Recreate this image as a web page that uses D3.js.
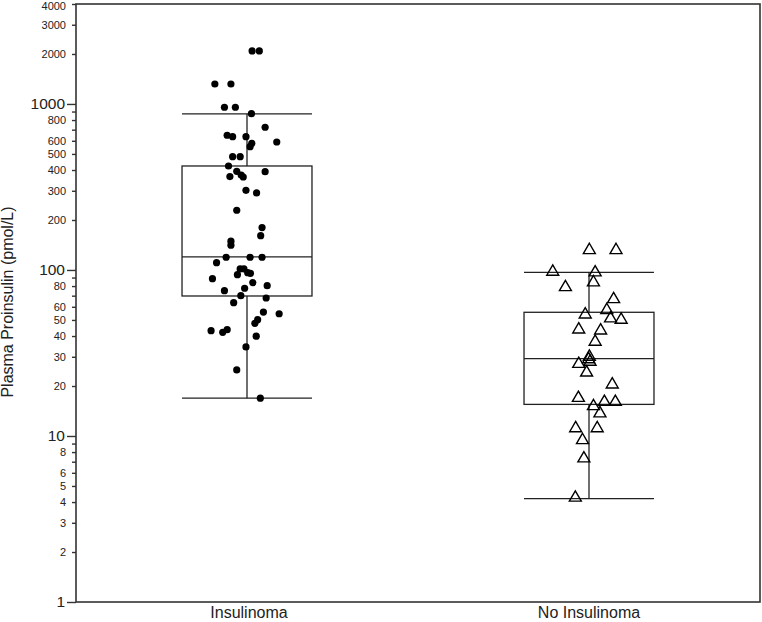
<!DOCTYPE html>
<html>
<head>
<meta charset="utf-8">
<script src="https://cdn.jsdelivr.net/npm/d3@7"></script>
<style>
  body { margin: 0; background: #fff; }
  svg { display: block; font-family: "Liberation Sans", Arial, sans-serif; }
</style>
</head>
<body>
<svg class="box-chart" width="762" height="622"></svg>
<script>
// Group names
const groups = ['Insulinoma', 'No Insulinoma'];

// Box summaries: [whisker low, Q1, median, Q3, whisker high]
const insulinomaBox = [16.9, 69.7, 119.8, 423, 871];
const noInsulinomaBox = [4.19, 15.5, 29.2, 55.6, 96.8];

// Insulinoma points: value and horizontal jitter (in group units)
const insulinomaValues = [2085, 2085, 1319, 1319, 955, 955, 874, 724, 648, 635,
    635, 590, 580, 553, 481, 481, 423, 393, 391, 373,
    365, 363, 302, 291, 229, 180, 161, 149, 141, 119.3,
    119.3, 119.3, 110.7, 101.4, 101.4, 93.7, 96.3, 95.5, 88.6, 83.9,
    80.4, 77.6, 75, 70, 67.8, 63.5, 55.8, 54.5, 50.2, 47.7,
    43.1, 42.1, 43.7, 39.9, 34.4, 25, 16.9];
const insulinomaJitter = [0.015, 0.036, -0.094, -0.047, -0.066, -0.034, 0.013, 0.053, -0.058, -0.042,
    -0.003, 0.087, 0.014, 0.009, -0.042, -0.020, -0.054, -0.030, 0.053, -0.017,
    -0.050, -0.011, -0.003, 0.028, -0.030, 0.044, 0.040, -0.047, -0.047, -0.061,
    0.009, 0.044, -0.089, -0.020, -0.009, -0.028, 0.002, 0.010, -0.101, 0.017,
    0.059, -0.007, -0.066, -0.018, 0.056, -0.039, 0.048, 0.094, 0.031, 0.023,
    -0.105, -0.071, -0.058, 0.027, -0.003, -0.030, 0.039];

// No insulinoma points
const noInsulinomaValues = [128.9, 128.9, 95.5, 94.6, 82.4, 77.1, 65.3, 56.1, 52.8, 50.0,
    49.1, 42.9, 42.3, 36.2, 29.4, 28.4, 26.6, 27.4, 23.6, 20.0,
    16.6, 14.8, 15.7, 15.7, 13.4, 10.9, 10.9, 9.24, 7.17, 4.16];
const noInsulinomaJitter = [0.001, 0.079, -0.106, 0.018, 0.013, -0.069, 0.072, 0.052, -0.011, 0.063,
    0.094, -0.030, 0.034, 0.018, 0.001, -0.001, -0.030, 0.003, -0.007, 0.068,
    -0.031, 0.013, 0.045, 0.077, 0.032, -0.039, 0.024, -0.019, -0.015, -0.040];

// Tick values
const majorTicks = [1, 10, 100, 1000];
const minorLabeledTicks = [2, 3, 4, 5, 6, 8, 20, 30, 40, 50, 60, 80,
    200, 300, 400, 500, 600, 800, 2000, 3000, 4000];
const minorBlankTicks = [7, 9, 70, 90, 700, 900];

const svg = d3.select('.box-chart');
const margin = { top: 4, right: 2, bottom: 20, left: 76 };
const width = 762 - margin.left - margin.right;
const height = 622 - margin.top - margin.bottom;

const g = svg.append('g')
    .attr('transform', `translate(${margin.left}, ${margin.top})`);

// Scales: groups sit at 1 and 2 on a linear x scale so jitter works in data units
const x = d3.scaleLinear().domain([0.5, 2.5]).range([0, width]);
const y = d3.scaleLog().domain([1, 4000]).range([height, 0]);

const boxHalf = 0.19;
const ink = '#222';

// Frame
g.append('rect')
    .attr('width', width)
    .attr('height', height)
    .attr('fill', 'none')
    .attr('stroke', '#333')
    .attr('stroke-width', 1.6);

// Y axes: major, labeled minor, unlabeled minor
const majorAxis = g.append('g')
    .call(d3.axisLeft(y).tickValues(majorTicks).tickFormat(d3.format('d')).tickSize(9).tickPadding(2));
majorAxis.selectAll('text').attr('font-size', 15.5);

const minorAxis = g.append('g')
    .call(d3.axisLeft(y).tickValues(minorLabeledTicks).tickFormat(d3.format('d')).tickSize(4).tickPadding(6));
minorAxis.selectAll('text').attr('font-size', 11);
// keep the top label inside the page
minorAxis.selectAll('.tick text').filter(d => d === 4000).attr('dy', '0.5em');

g.append('g')
    .call(d3.axisLeft(y).tickValues(minorBlankTicks).tickFormat('').tickSize(4));

g.selectAll('.domain').remove();
g.selectAll('.tick line').attr('stroke', '#333').attr('stroke-width', 1.4);
g.selectAll('.tick text').attr('fill', ink).attr('font-family', '"Liberation Sans", Arial, sans-serif');

// Y title
svg.append('text')
    .attr('transform', 'translate(13, 302) rotate(-90)')
    .attr('text-anchor', 'middle')
    .attr('font-size', 16)
    .attr('fill', ink)
    .text('Plasma Proinsulin (pmol/L)');

// X labels
g.selectAll('.x-label')
    .data(groups)
    .join('text')
    .attr('class', 'x-label')
    .attr('x', (d, i) => x(i + 1) + (i === 0 ? 2 : 0))
    .attr('y', height + 16)
    .attr('text-anchor', 'middle')
    .attr('font-size', 16)
    .attr('fill', ink)
    .text(d => d);

// Boxes with whiskers
function drawBox(stats, pos) {
    const [lo, q1, med, q3, hi] = stats;
    const b = g.append('g')
        .attr('fill', 'none')
        .attr('stroke', ink)
        .attr('stroke-width', 1.3);
    b.append('rect')
        .attr('x', x(pos - boxHalf))
        .attr('y', y(q3))
        .attr('width', x(pos + boxHalf) - x(pos - boxHalf))
        .attr('height', y(q1) - y(q3));
    [lo, med, hi].forEach(v => {
        b.append('line')
            .attr('x1', x(pos - boxHalf)).attr('x2', x(pos + boxHalf))
            .attr('y1', y(v)).attr('y2', y(v));
    });
    b.append('line')
        .attr('x1', x(pos)).attr('x2', x(pos))
        .attr('y1', y(q3)).attr('y2', y(hi));
    b.append('line')
        .attr('x1', x(pos)).attr('x2', x(pos))
        .attr('y1', y(q1)).attr('y2', y(lo));
}
drawBox(insulinomaBox, 1);
drawBox(noInsulinomaBox, 2);

// Insulinoma dots
g.append('g')
    .selectAll('circle')
    .data(insulinomaValues)
    .join('circle')
    .attr('cx', (d, i) => x(1 + insulinomaJitter[i]))
    .attr('cy', d => y(d))
    .attr('r', 3.6)
    .attr('fill', '#000');

// No insulinoma triangles
const tri = d3.symbol().type(d3.symbolTriangle).size(62);
g.append('g')
    .selectAll('path')
    .data(noInsulinomaValues)
    .join('path')
    .attr('transform', (d, i) => `translate(${x(2 + noInsulinomaJitter[i])}, ${y(d) - 1.5})`)
    .attr('d', tri)
    .attr('fill', 'none')
    .attr('stroke', '#000')
    .attr('stroke-width', 1.4);
</script>
</body>
</html>
